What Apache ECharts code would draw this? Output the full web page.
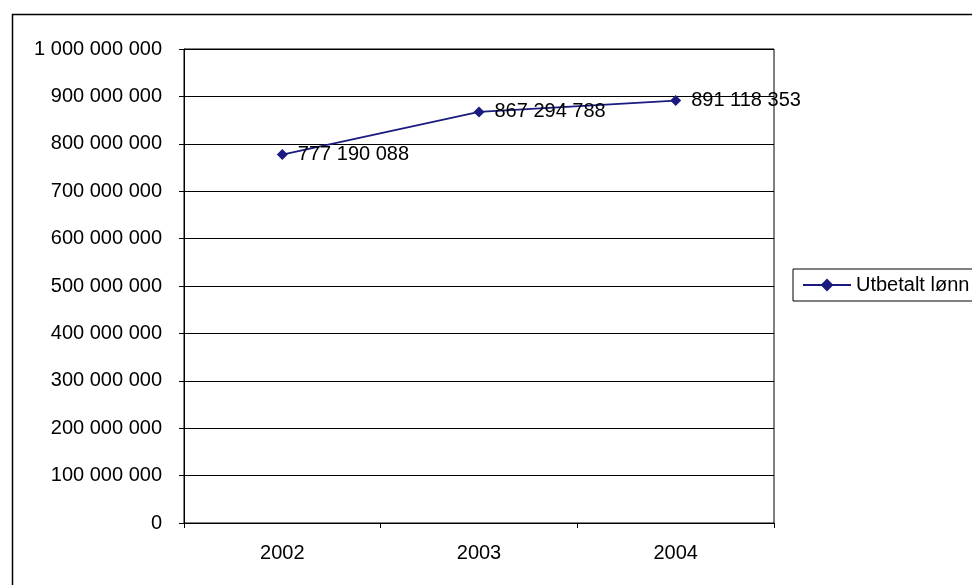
<!DOCTYPE html>
<html><head><meta charset="utf-8">
<script src="https://cdn.jsdelivr.net/npm/echarts@6/dist/echarts.min.js"></script>
<style>html,body{margin:0;padding:0;background:#fff}#c{width:972px;height:585px}</style>
</head><body><div id="c"></div>
<script>
const categories = ['2002', '2003', '2004'];
const seriesName = 'Utbetalt lønn';
const values = [777190088, 867294788, 891118353];
const yMin = 0, yMax = 1000000000, yStep = 100000000;

function fmt(v) {
  return String(Math.round(v)).replace(/\B(?=(\d{3})+(?!\d))/g, ' ');
}
const FONT = '"Liberation Sans", Arial, sans-serif';
const chart = echarts.init(document.getElementById('c'), null, {renderer: 'canvas'});
chart.setOption({
  animation: false,
  backgroundColor: '#fff',
  graphic: [{
    type: 'rect', left: 10, top: 12, z: 0, silent: true,
    shape: {width: 1000, height: 600},
    style: {fill: 'none', stroke: '#000', lineWidth: 1.5}
  }],
  grid: {left: 184, top: 49, right: 198, bottom: 62, show: true, borderColor: '#000', borderWidth: 1, backgroundColor: 'transparent'},
  legend: {
    left: 793, top: 269,
    padding: [6, 40, 6, 9],
    itemWidth: 48, itemHeight: 16, itemGap: 6,
    borderColor: '#000', borderWidth: 1,
    textStyle: {fontFamily: FONT, fontSize: 20, color: '#000'},
    data: [seriesName]
  },
  xAxis: {
    type: 'category', data: categories, boundaryGap: true,
    axisLine: {lineStyle: {color: '#000', width: 1}},
    axisTick: {show: true, length: 5, alignWithLabel: false, lineStyle: {color: '#000'}},
    axisLabel: {fontFamily: FONT, fontSize: 20, color: '#000', margin: 20}
  },
  yAxis: {
    type: 'value', min: yMin, max: yMax, interval: yStep,
    axisLine: {show: true, lineStyle: {color: '#000', width: 1}},
    axisTick: {show: true, length: 5, lineStyle: {color: '#000'}},
    splitLine: {show: true, lineStyle: {color: '#000', width: 1}},
    axisLabel: {fontFamily: FONT, fontSize: 20, color: '#000', margin: 22, formatter: fmt}
  },
  series: [{
    name: seriesName, type: 'line', data: values,
    symbol: 'diamond', symbolSize: 11,
    lineStyle: {color: '#1a1a80', width: 1.8},
    itemStyle: {color: '#1a1a80'},
    label: {show: true, position: 'right', distance: 10, fontFamily: FONT, fontSize: 20, color: '#000', formatter: p => fmt(p.value)}
  }]
});
</script></body></html>
